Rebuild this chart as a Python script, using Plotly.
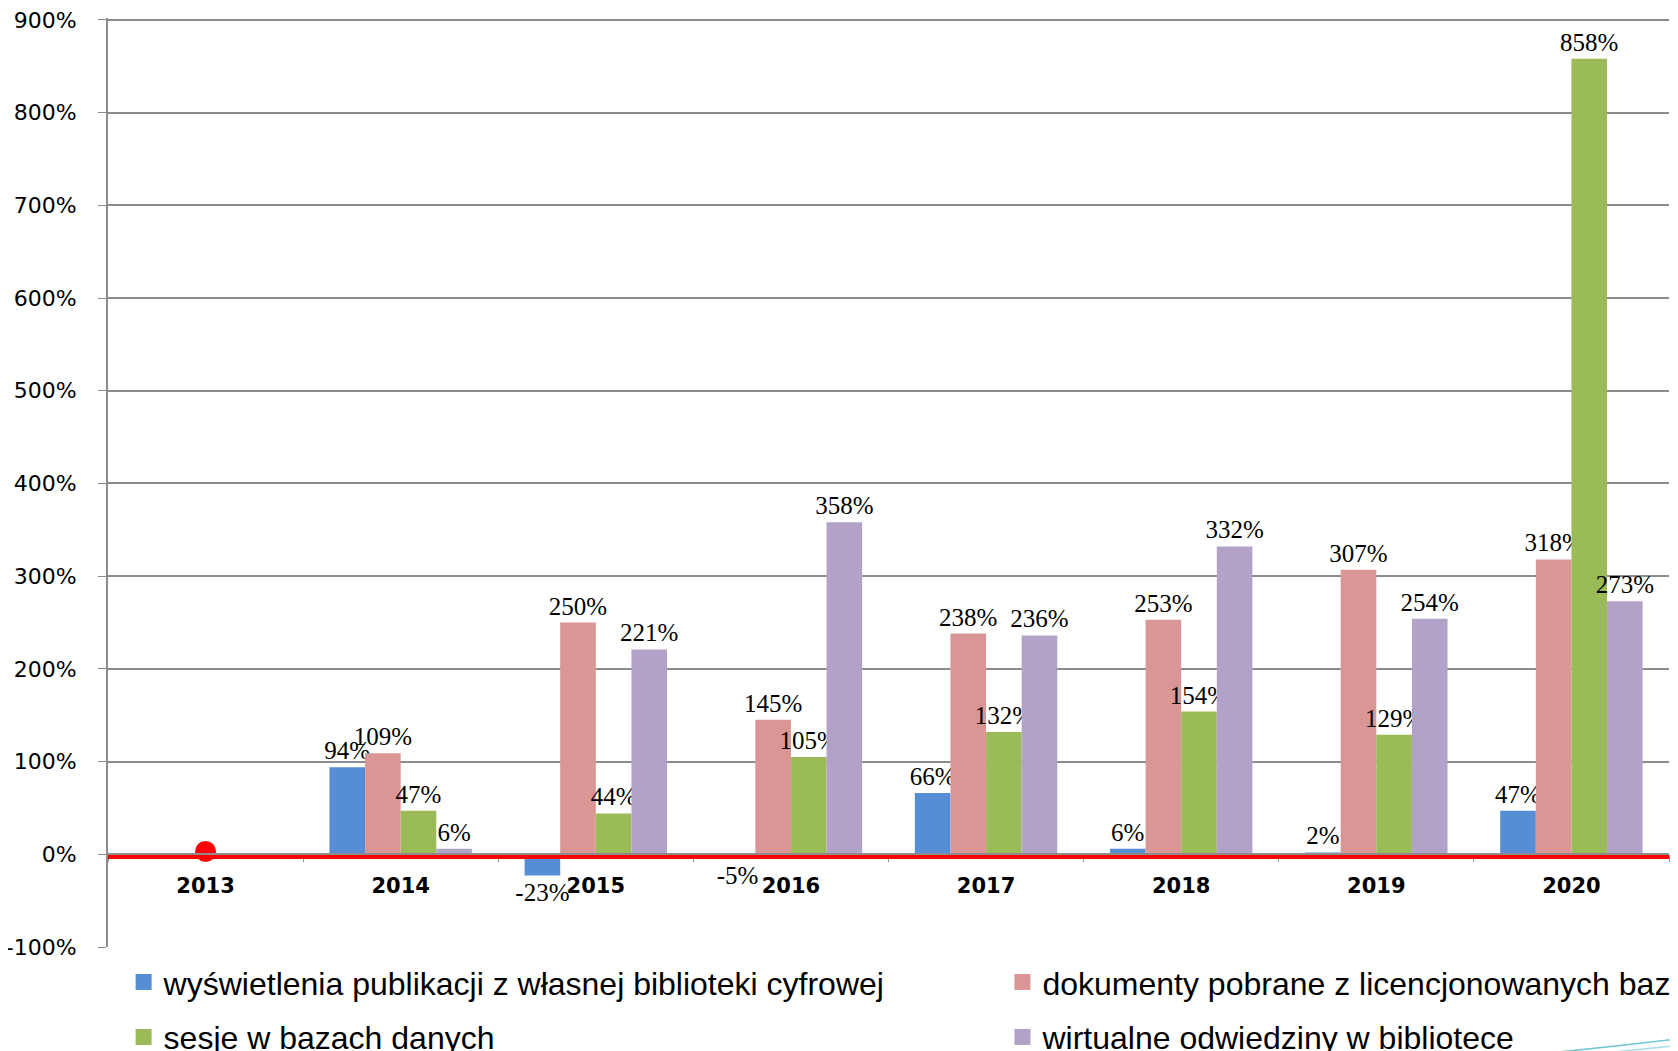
import plotly.graph_objects as go

years = ["2013", "2014", "2015", "2016", "2017", "2018", "2019", "2020"]
wyswietlenia = [None, 94, -23, -5, 66, 6, 2, 47]
dokumenty = [None, 109, 250, 145, 238, 253, 307, 318]
sesje = [None, 47, 44, 105, 132, 154, 129, 858]
wirtualne = [None, 6, 221, 358, 236, 332, 254, 273]
marker_2013 = [3]
y_ticks = list(range(-100, 901, 100))
y_ticktext = [f"{v}%" for v in y_ticks]

series = [
    ("wyświetlenia publikacji z własnej biblioteki cyfrowej", wyswietlenia, "#558ED5", "legend"),
    ("dokumenty pobrane z licencjonowanych baz", dokumenty, "#D99694", "legend2"),
    ("sesje w bazach danych", sesje, "#9BBB59", "legend3"),
    ("wirtualne odwiedziny w bibliotece", wirtualne, "#B3A2C7", "legend4"),
]

fig = go.Figure()
for name, vals, color, leg in series:
    fig.add_trace(go.Bar(
        x=years, y=vals, name=name, marker_color=color, marker_line_width=0,
        text=[f"{v}%" if v is not None else "" for v in vals],
        textposition="outside", cliponaxis=False, constraintext="none",
        textfont=dict(family="Liberation Serif", size=25, color="black"),
        showlegend=False,
    ))
    # legend entry with a larger square swatch
    fig.add_trace(go.Scatter(
        x=[None], y=[None], mode="markers", name=name,
        marker=dict(symbol="square", size=17, color=color),
        legend=leg, showlegend=True,
    ))

fig.add_shape(type="line", xref="paper", yref="y", x0=0, x1=1, y0=-3, y1=-3,
              line=dict(color="#FF0000", width=4), layer="above")
fig.add_trace(go.Scatter(x=years[:1], y=marker_2013, mode="markers",
                         marker=dict(color="#FF0000", size=21), showlegend=False,
                         cliponaxis=False))

# decorative swoosh bottom-right
for i, (y0, y1) in enumerate([(-0.125, -0.098), (-0.13, -0.105), (-0.135, -0.112)]):
    fig.add_shape(type="path", xref="paper", yref="paper",
                  path=f"M 0.84 {y0} Q 0.93 {y0+0.01} 1.01 {y1}",
                  line=dict(color=["#6EC6D0", "#A8DCE3", "#3FA7B8"][i], width=1.5),
                  layer="above")

leg_font = dict(family="Liberation Sans", size=32, color="black")
def leg(x, y):
    return dict(orientation="h", x=x, y=y, xanchor="left", yanchor="middle",
                font=leg_font, itemwidth=30, itemsizing="trace",
                bgcolor="rgba(0,0,0,0)")

fig.update_layout(
    width=1670, height=1043,
    margin=dict(l=100, r=9, t=10, b=104, autoexpand=False),
    plot_bgcolor="white", paper_bgcolor="white",
    barmode="group", bargap=0.27, bargroupgap=0,
    font=dict(family="DejaVu Sans", color="black"),
    legend=leg(0.010, -0.038),
    legend2=leg(0.573, -0.038),
    legend3=leg(0.010, -0.097),
    legend4=leg(0.573, -0.097),
    xaxis=dict(type="category", anchor="free", position=100 / 1002,
               showline=True, linecolor="#8c8c8c", linewidth=1.5,
               ticks="outside", tickson="boundaries", ticklen=7, tickcolor="#8c8c8c",
               ticklabelstandoff=13,
               tickfont=dict(family="DejaVu Sans", size=21, color="black", weight="bold"),
               showgrid=False),
    yaxis=dict(range=[-100, 902], tickvals=y_ticks, ticktext=y_ticktext,
               showgrid=True, gridcolor="#8c8c8c", gridwidth=1.5,
               showline=True, linecolor="#8c8c8c", linewidth=2,
               ticks="outside", ticklen=8, tickcolor="#8c8c8c",
               ticklabelstandoff=17, ticklabeloverflow="allow",
               tickfont=dict(family="DejaVu Sans", size=22, color="black"),
               zeroline=False),
)

fig.write_html("out.html")
